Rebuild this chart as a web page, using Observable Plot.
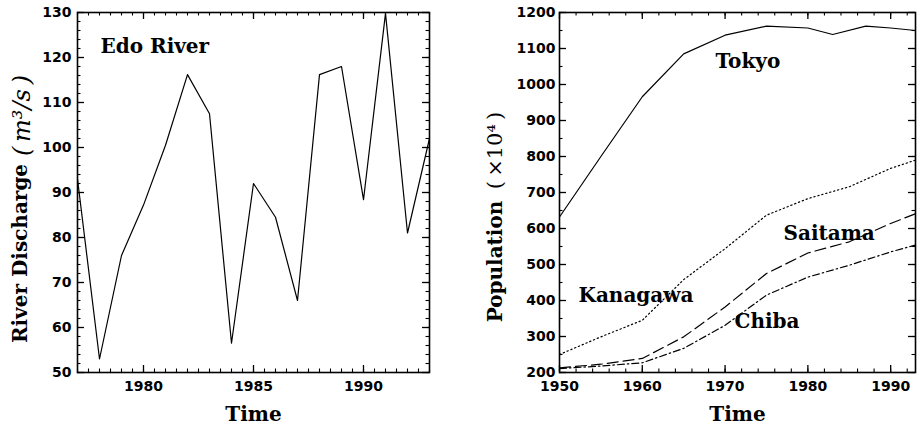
<!DOCTYPE html>
<html><head><meta charset="utf-8">
<script src="https://cdn.jsdelivr.net/npm/d3@7"></script>
<script src="https://cdn.jsdelivr.net/npm/@observablehq/plot@0.6"></script>
<style>
body{margin:0;background:#fff;}
#wrap{display:flex;width:921px;height:427px;background:#fff;}
</style></head><body><div id="wrap"></div>
<script>
// ---- Left panel data: Edo River discharge ----
const edoYears = [1977,1978,1979,1980,1981,1982,1983,1984,1985,1986,1987,1988,1989,1990,1991,1992,1993];
const edoDischarge = [93,53,76,87.2,100.5,116.2,107.5,56.5,92,84.5,66,116.2,118,88.4,129.8,81,102];
const edoXTicks = [1980,1985,1990];
const edoYTicks = [50,60,70,80,90,100,110,120,130];

// ---- Right panel data: population (x10^4) ----
const tokyoYears = [1950,1955,1960,1965,1970,1975,1980,1983,1987,1990,1993];
const tokyoPop   = [632,800,966,1085,1137,1162,1157,1139,1162,1157,1150];
const prefYears  = [1950,1955,1960,1965,1970,1975,1980,1985,1990,1993];
const kanagawaPop = [250,299,345,458,544,637,683,716,767,790];
const saitamaPop  = [213,223,239,299,382,475,532,563,614,641];
const chibaPop    = [211,218,227,267,331,415,465,498,535,554];
const popXTicks = [1950,1960,1970,1980,1990];
const popYTicks = [200,300,400,500,600,700,800,900,1000,1100,1200];

const edo = edoYears.map((y,i)=>({year:y, value:edoDischarge[i]}));
const pop = [
  ...tokyoYears.map((y,i)=>({series:"Tokyo", year:y, value:tokyoPop[i]})),
  ...prefYears.map((y,i)=>({series:"Kanagawa", year:y, value:kanagawaPop[i]})),
  ...prefYears.map((y,i)=>({series:"Saitama", year:y, value:saitamaPop[i]})),
  ...prefYears.map((y,i)=>({series:"Chiba", year:y, value:chibaPop[i]}))
];

const serif = "DejaVu Serif";
const sans = "DejaVu Sans";

function inward(xs, ys, w, h, len, sw) {
  return [
    Plot.ruleX(xs, {x: d=>d, insetTop: h-len, strokeWidth: sw}),
    Plot.ruleX(xs, {x: d=>d, insetBottom: h-len, strokeWidth: sw}),
    Plot.ruleY(ys, {y: d=>d, insetRight: w-len, strokeWidth: sw}),
    Plot.ruleY(ys, {y: d=>d, insetLeft: w-len, strokeWidth: sw})
  ];
}
const lbl = (t, o) => Plot.text([t], {text: d=>d, fontFamily: serif, fontWeight: "bold", fontSize: 20, fill: "black", ...o});

// Left
const LW = 460, LH = 427, Lml = 77, Lmr = 31, Lmt = 12, Lmb = 55;
const lfw = LW-Lml-Lmr, lfh = LH-Lmt-Lmb;
const left = Plot.plot({
  width: LW, height: LH, marginLeft: Lml, marginRight: Lmr, marginTop: Lmt, marginBottom: Lmb,
  x: {domain: [1977, 1993]},
  y: {domain: [50, 130]},
  style: {background: "white", fontFamily: sans},
  marks: [
    Plot.axisX(edoXTicks, {tickSize: 0, tickPadding: 9, tickFormat: d=>String(d), fontSize: 14, fontWeight: "bold", fontFamily: sans, label: null}),
    Plot.axisY(edoYTicks, {tickSize: 0, tickPadding: 6, tickFormat: d=>String(d), fontSize: 14, fontWeight: "bold", fontFamily: sans, label: null}),
    ...inward(d3.range(1977, 1993.01, 0.5), d3.range(50, 130.01, 2), lfw, lfh, 3.5, 1.1),
    ...inward(edoXTicks, edoYTicks, lfw, lfh, 7, 1.3),
    Plot.frame({stroke: "black", strokeWidth: 1.6}),
    Plot.line(edo, {x: "year", y: "value", stroke: "black", strokeWidth: 1.2}),
    lbl("Edo River", {frameAnchor: "top-left", dx: 23, dy: 26, textAnchor: "start", lineAnchor: "top"}),
    lbl("Time", {frameAnchor: "bottom", dy: 34, lineAnchor: "top"}),
    lbl("River Discharge", {frameAnchor: "left", rotate: -90, dx: -57, dy: 61, textAnchor: "middle"}),
    Plot.text(["(\u2009m³/s\u2009)"], {text: d=>d, frameAnchor: "left", rotate: -90, dx: -55, dy: -77, textAnchor: "middle", fontFamily: serif, fontStyle: "italic", fontSize: 24, fill: "black"})
  ]
});

// Right
const RW = 461, RH = 427, Rml = 99, Rmr = 6, Rmt = 12, Rmb = 55;
const rfw = RW-Rml-Rmr, rfh = RH-Rmt-Rmb;
const dash = {Tokyo: null, Kanagawa: "1.3,2.8", Saitama: "11,5", Chiba: "7,3,1.5,3"};
const right = Plot.plot({
  width: RW, height: RH, marginLeft: Rml, marginRight: Rmr, marginTop: Rmt, marginBottom: Rmb,
  x: {domain: [1950, 1993]},
  y: {domain: [200, 1200]},
  style: {background: "white", fontFamily: sans},
  marks: [
    Plot.axisX(popXTicks, {tickSize: 0, tickPadding: 9, tickFormat: d=>String(d), fontSize: 14, fontWeight: "bold", fontFamily: sans, label: null}),
    Plot.axisY(popYTicks, {tickSize: 0, tickPadding: 4, tickFormat: d=>String(d), fontSize: 14, fontWeight: "bold", fontFamily: sans, label: null}),
    ...inward(d3.range(1950, 1993.01, 2), d3.range(200, 1200.01, 50), rfw, rfh, 3.5, 1.1),
    ...inward(popXTicks, popYTicks, rfw, rfh, 7, 1.3),
    Plot.frame({stroke: "black", strokeWidth: 1.6}),
    ...Object.keys(dash).map(s => Plot.line(pop.filter(d=>d.series===s), {x: "year", y: "value", stroke: "black", strokeWidth: 1.2, strokeDasharray: dash[s]})),
    lbl("Tokyo", {frameAnchor: "top-left", dx: 156, dy: 41, textAnchor: "start", lineAnchor: "top"}),
    lbl("Kanagawa", {frameAnchor: "top-left", dx: 19, dy: 275, textAnchor: "start", lineAnchor: "top"}),
    lbl("Saitama", {frameAnchor: "top-left", dx: 224, dy: 213, textAnchor: "start", lineAnchor: "top"}),
    lbl("Chiba", {frameAnchor: "top-left", dx: 175, dy: 301, textAnchor: "start", lineAnchor: "top"}),
    lbl("Time", {frameAnchor: "bottom", dy: 34, lineAnchor: "top"}),
    lbl("Population", {frameAnchor: "left", rotate: -90, dx: -64, dy: 69, textAnchor: "middle"}),
    Plot.text(["(\u2009×10⁴\u2009)"], {text: d=>d, frameAnchor: "left", rotate: -90, dx: -64, dy: -42, textAnchor: "middle", fontFamily: serif, fontSize: 21, fill: "black"})
  ]
});

document.getElementById("wrap").append(left, right);
</script>
</body></html>
